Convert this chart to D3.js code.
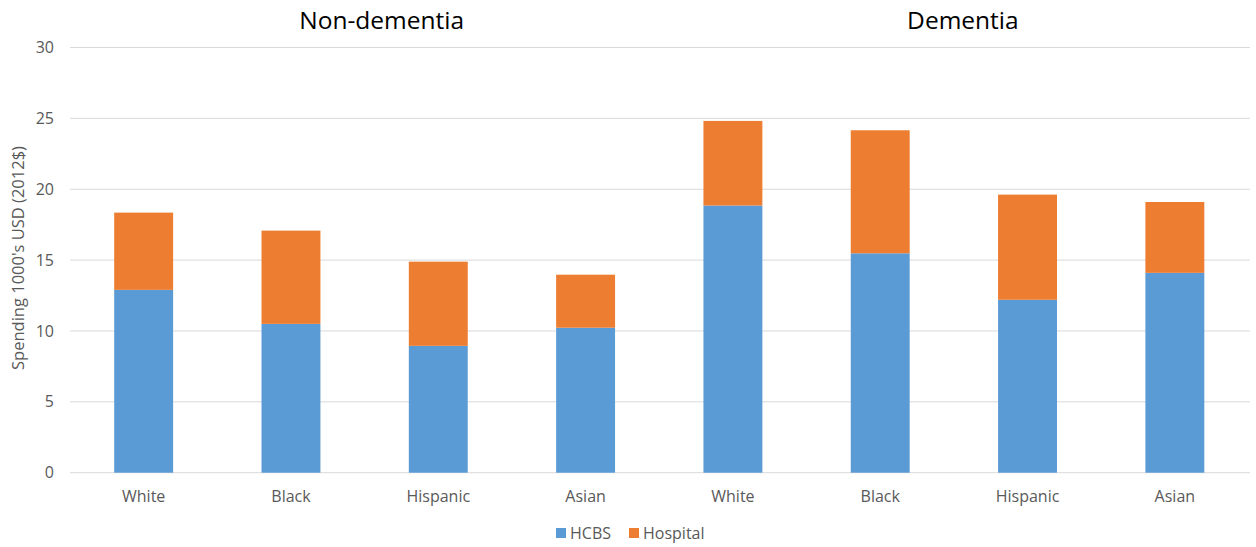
<!DOCTYPE html>
<html><head><meta charset="utf-8">
<script src="https://cdn.jsdelivr.net/npm/d3@7"></script>
<style>body{margin:0;background:#fff}svg{display:block}text{font-family:"Open Sans","Noto Sans",sans-serif}</style>
</head><body>
<svg id="c" width="1256" height="547"></svg>
<script>
const categories = ["White","Black","Hispanic","Asian","White","Black","Hispanic","Asian"];
const groups = ["Non-dementia","Dementia"];
const hcbs = [12.9, 10.5, 8.95, 10.23, 18.85, 15.48, 12.2, 14.1];
const hospital = [5.45, 6.58, 5.94, 3.74, 5.97, 8.68, 7.42, 5.0];
const seriesNames = ["HCBS","Hospital"];
const colors = ["#5B9BD5","#ED7D31"];
const yTicks = [0,5,10,15,20,25,30];

const svg = d3.select("#c");
const x = d3.scaleBand().domain(d3.range(categories.length)).range([70, 1248.5]).paddingInner(0.6).paddingOuter(0.3);
const y = d3.scaleLinear().domain([0,30]).range([472.7, 47.5]);

// gridlines
svg.append("g").selectAll("line").data(yTicks).join("line")
  .attr("x1",70).attr("x2",1250)
  .attr("y1",d=>y(d)).attr("y2",d=>y(d))
  .attr("stroke","#D9D9D9").attr("stroke-width",1);

// y tick labels
svg.append("g").selectAll("text").data(yTicks).join("text")
  .attr("x",54).attr("y",d=>y(d)).attr("dy","0.35em")
  .attr("text-anchor","end").attr("font-size",16).attr("fill","#595959")
  .text(d=>d);

// stacked data
const rows = categories.map((c,i)=>({i, HCBS:hcbs[i], Hospital:hospital[i]}));
const stack = d3.stack().keys(seriesNames)(rows);
svg.append("g").selectAll("g").data(stack).join("g")
  .attr("fill",(d,k)=>colors[k])
  .selectAll("rect").data(d=>d).join("rect")
  .attr("x",d=>x(d.data.i)).attr("width",x.bandwidth())
  .attr("y",d=>y(d[1])).attr("height",d=>y(d[0])-y(d[1]));

// x labels
svg.append("g").selectAll("text").data(categories).join("text")
  .attr("x",(d,i)=>x(i)+x.bandwidth()/2).attr("y",502)
  .attr("text-anchor","middle").attr("font-size",16).attr("fill","#595959")
  .text(d=>d);

// group titles
const titleShift = [17, 9];
svg.append("g").selectAll("text").data(groups).join("text")
  .attr("x",(d,g)=>(x(g*4+1)+x(g*4+2)+x.bandwidth())/2+titleShift[g])
  .attr("y",29).attr("text-anchor","middle").attr("font-size",24.5).attr("fill","#000")
  .text(d=>d);

// y axis title
svg.append("text").attr("transform","translate(24,258) rotate(-90)")
  .attr("text-anchor","middle").attr("font-size",16.5).attr("fill","#595959")
  .text("Spending 1000's USD (2012$)");

// legend
const lg = svg.append("g").attr("transform","translate(556,533)");
const items = [{n:"HCBS",x:0},{n:"Hospital",x:73}];
items.forEach((it,k)=>{
  lg.append("rect").attr("x",it.x).attr("y",-5).attr("width",10).attr("height",10).attr("fill",colors[k]);
  lg.append("text").attr("x",it.x+14).attr("y",0).attr("dy","0.35em").attr("font-size",16).attr("fill","#595959").text(it.n);
});
</script>
</body></html>
